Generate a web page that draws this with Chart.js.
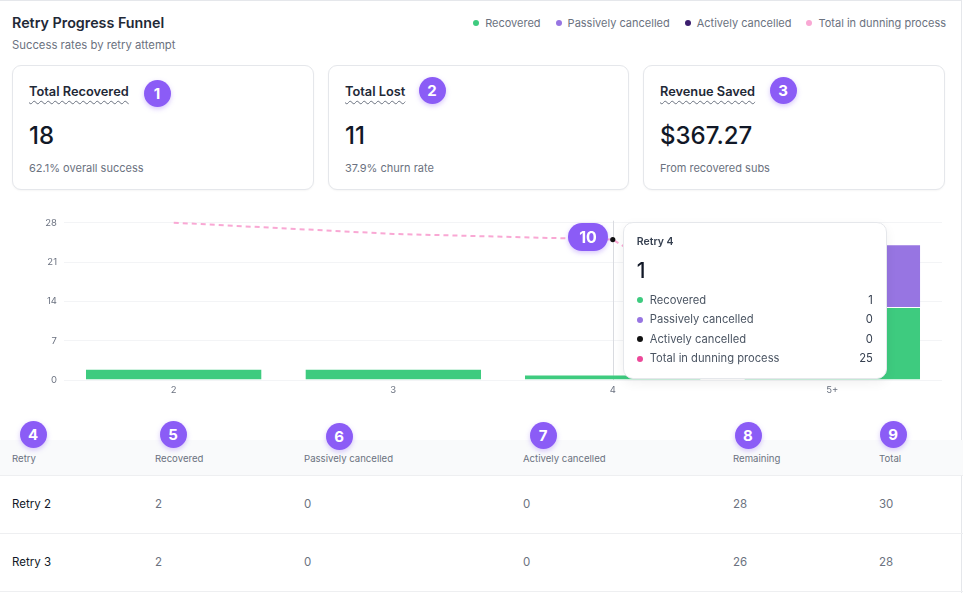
<!DOCTYPE html>
<html>
<head>
<meta charset="utf-8">
<script src="https://cdn.jsdelivr.net/npm/chart.js@4/dist/chart.umd.min.js"></script>
<style>
  html, body { margin:0; padding:0; }
  body { width:967px; height:593px; overflow:hidden; background:#fff; font-family: Inter, "Noto Sans", sans-serif; position:relative; color:#111827; }
  .frame { position:absolute; left:-1px; top:0; width:963px; height:620px; border:1px solid #e5e7eb; box-sizing:border-box; }
  .title { position:absolute; left:12px; top:14px; font-size:14.3px; line-height:18px; font-weight:600; color:#1f2937; }
  .subtitle { position:absolute; left:12px; top:38px; font-size:11.3px; line-height:14px; color:#6b7280; }
  .legend { position:absolute; right:21px; top:16px; display:flex; gap:15px; font-size:11px; line-height:14px; color:#6b7280; }
  .legend .item { display:flex; align-items:center; gap:6px; }
  .legend .dot { width:6px; height:6px; border-radius:50%; display:inline-block; }
  .card { position:absolute; top:65px; height:125px; border:1px solid #e5e7eb; border-radius:9px; box-sizing:border-box; box-shadow:0 1px 2px rgba(0,0,0,0.04); background:#fff; }
  .card .lbl { position:absolute; left:16px; top:18px; font-size:12.8px; line-height:16px; font-weight:600; color:#1f2937; text-decoration:underline wavy #6b7280; text-decoration-thickness:1px; text-underline-offset:4px; }
  .card .val { position:absolute; left:16px; top:56px; font-size:24px; line-height:28px; font-weight:500; color:#111827; }
  .card .sub { position:absolute; left:16px; top:95px; font-size:11px; line-height:14px; color:#6b7280; }
  .badge { position:absolute; width:27px; height:27px; border-radius:50%; background:#8b5cf6; color:#fff; font-weight:700; font-size:15px; line-height:27px; text-align:center; box-shadow:0 2px 5px rgba(139,92,246,0.35); z-index:5; }
  .badge.pill { width:40px; height:28px; border-radius:14px; line-height:28px; font-size:16px; }
  .chartbox { position:absolute; left:0; top:210px; width:952px; height:190px; }
  #tip { position:absolute; width:264px; height:157px; box-sizing:border-box; background:#fff; border:1px solid #e5e7eb; border-radius:10px; box-shadow:0 4px 12px rgba(0,0,0,0.06); padding:12px 13px; z-index:4; display:none; }
  #tip .t { font-size:10.5px; line-height:14px; font-weight:600; color:#374151; }
  #tip .big { font-size:21px; line-height:24px; font-weight:500; color:#111827; margin-top:10px; margin-bottom:8px; }
  #tip .row { display:flex; align-items:center; font-size:11.2px; line-height:19.4px; color:#4b5563; }
  #tip .row .d { width:6px; height:6px; border-radius:50%; margin-right:7px; margin-left:0px; }
  #tip .row .v { margin-left:auto; color:#374151; }
  table { position:absolute; left:0; top:440px; width:963px; border-collapse:collapse; table-layout:fixed; font-size:11.5px; }
  th { background:#f9fafb; height:35px; box-sizing:border-box; font-weight:400; font-size:9.6px; color:#6b7280; text-align:left; padding:3px 0 0 0; border-bottom:1px solid #eeeff1; vertical-align:middle; }
  td { height:57px; text-align:left; padding:0; border-bottom:1px solid #eeeff1; color:#6b7280; vertical-align:middle; }
  td.first { color:#111827; }
  th.first, td.first { padding-left:12px; }
</style>
</head>
<body>
<div class="frame"></div>
<div class="title">Retry Progress Funnel</div>
<div class="subtitle">Success rates by retry attempt</div>
<div class="legend" id="legend"></div>

<div id="cards"></div>

<div class="chartbox"><canvas id="c"></canvas></div>
<div id="tip"></div>

<table id="tbl"></table>

<script>
// ---- data ----
const categories = ['2', '3', '4', '5+'];
const recovered = [2, 2, 1, 13];
const passivelyCancelled = [0, 0, 0, 11];
const activelyCancelled = [0, 0, 0, 0];
const totalInDunning = [28, 26, 25, 1];
const yTicks = [0, 7, 14, 21, 28];

const seriesNames = ['Recovered', 'Passively cancelled', 'Actively cancelled', 'Total in dunning process'];
const legendColors = ['#3ecb7f', '#9775e2', '#3b1d6e', '#f9a8d4'];
const tooltipDotColors = ['#3ecb7f', '#9775e2', '#111111', '#ec4899'];

const cardTitles = ['Total Recovered', 'Total Lost', 'Revenue Saved'];
const cardValues = ['18', '11', '$367.27'];
const cardSubs = ['62.1% overall success', '37.9% churn rate', 'From recovered subs'];

const tableHeaders = ['Retry', 'Recovered', 'Passively cancelled', 'Actively cancelled', 'Remaining', 'Total'];
const tableRetry = ['Retry 2', 'Retry 3'];
const tableRecovered = [2, 2];
const tablePassive = [0, 0];
const tableActive = [0, 0];
const tableRemaining = [28, 26];
const tableTotal = [30, 28];

const activeIndex = 2;

// ---- legend ----
const legend = document.getElementById('legend');
seriesNames.forEach((n, i) => {
  const it = document.createElement('div'); it.className = 'item';
  it.innerHTML = '<span class="dot" style="background:' + legendColors[i] + '"></span><span>' + n + '</span>';
  legend.appendChild(it);
});

// ---- cards ----
const cardLefts = [12, 328, 643];
const cardWidths = [302, 301, 302];
const cardsEl = document.getElementById('cards');
cardTitles.forEach((t, i) => {
  const c = document.createElement('div'); c.className = 'card';
  c.style.left = cardLefts[i] + 'px'; c.style.width = cardWidths[i] + 'px';
  c.innerHTML = '<div class="lbl">' + t + '</div><div class="val">' + cardValues[i] + '</div><div class="sub">' + cardSubs[i] + '</div>';
  cardsEl.appendChild(c);
});

// ---- badges ----
const badges = [
  ['1', 157, 93], ['2', 432, 90], ['3', 783, 90],
  ['4', 33, 434], ['5', 173, 434], ['6', 339, 436], ['7', 543, 435], ['8', 748, 435], ['9', 893, 434]
];
badges.forEach(b => {
  const d = document.createElement('div'); d.className = 'badge'; d.textContent = b[0];
  d.style.left = (b[1] - 13.5) + 'px'; d.style.top = (b[2] - 13.5) + 'px';
  document.body.appendChild(d);
});
const b10 = document.createElement('div'); b10.className = 'badge pill'; b10.textContent = '10';
b10.style.left = (588 - 20) + 'px'; b10.style.top = (237 - 14) + 'px';
document.body.appendChild(b10);

// ---- table ----
const tbl = document.getElementById('tbl');
const colW = [155, 149, 219, 210, 146, 84];
let html = '<colgroup>' + colW.map(w => '<col style="width:' + w + 'px">').join('') + '</colgroup>';
html += '<tr>' + tableHeaders.map((h, i) => '<th' + (i === 0 ? ' class="first"' : '') + '>' + h + '</th>').join('') + '</tr>';
tableRetry.forEach((r, i) => {
  const cells = [r, tableRecovered[i], tablePassive[i], tableActive[i], tableRemaining[i], tableTotal[i]];
  html += '<tr>' + cells.map((v, j) => '<td' + (j === 0 ? ' class="first"' : '') + '>' + v + '</td>').join('') + '</tr>';
});
tbl.innerHTML = html;

// ---- chart ----
const tipEl = document.getElementById('tip');
function externalTooltip(context) {
  const { chart, tooltip } = context;
  if (tooltip.opacity === 0 || !tooltip.dataPoints || !tooltip.dataPoints.length) { tipEl.style.display = 'none'; return; }
  const pts = tooltip.dataPoints.slice().sort((a, b) => a.datasetIndex - b.datasetIndex);
  const idx = pts[0].dataIndex;
  let h = '<div class="t">Retry ' + chart.data.labels[idx] + '</div>';
  h += '<div class="big">' + pts[0].raw + '</div>';
  pts.forEach(p => {
    h += '<div class="row"><span class="d" style="background:' + tooltipDotColors[p.datasetIndex] + '"></span><span>' + p.dataset.label + '</span><span class="v">' + p.raw + '</span></div>';
  });
  tipEl.innerHTML = h;
  const box = chart.canvas.parentNode;
  const x = chart.scales.x.getPixelForValue(idx);
  tipEl.style.left = (box.offsetLeft + x + 10) + 'px';
  tipEl.style.top = (box.offsetTop + chart.chartArea.top - 1) + 'px';
  tipEl.style.display = 'block';
}

const crosshair = {
  id: 'crosshair',
  beforeDatasetsDraw(chart) {
    const act = chart.tooltip && chart.tooltip.getActiveElements();
    if (!act || !act.length) return;
    const x = chart.scales.x.getPixelForValue(act[0].index);
    const ctx = chart.ctx;
    ctx.save();
    ctx.strokeStyle = '#d9dbe0';
    ctx.lineWidth = 1;
    ctx.beginPath();
    ctx.moveTo(Math.round(x) + 0.5, chart.chartArea.top - 2);
    ctx.lineTo(Math.round(x) + 0.5, chart.chartArea.bottom);
    ctx.stroke();
    ctx.restore();
  }
};

const chart = new Chart(document.getElementById('c'), {
  data: {
    labels: categories,
    datasets: [
      { type: 'bar', label: seriesNames[0], data: recovered, backgroundColor: legendColors[0], borderColor: 'rgba(255,255,255,0.45)', borderWidth: { top: 1 }, borderSkipped: 'bottom', categoryPercentage: 0.8, barPercentage: 1, order: 2, stack: 'bars' },
      { type: 'bar', label: seriesNames[1], data: passivelyCancelled, backgroundColor: legendColors[1], borderWidth: 0, categoryPercentage: 0.8, barPercentage: 1, order: 2, stack: 'bars' },
      { type: 'bar', label: seriesNames[2], data: activelyCancelled, backgroundColor: legendColors[2], borderWidth: 0, categoryPercentage: 0.8, barPercentage: 1, order: 2, stack: 'bars' },
      { type: 'line', label: seriesNames[3], data: totalInDunning, borderColor: legendColors[3], borderWidth: 2, borderDash: [5, 4], pointRadius: 0, pointHoverRadius: 2.6, pointHoverBackgroundColor: '#111111', pointHoverBorderWidth: 0, pointBackgroundColor: '#111111', tension: 0, order: 0, stack: 'line', clip: false }
    ]
  },
  options: {
    responsive: true,
    maintainAspectRatio: false,
    animation: false,
    events: [],
    layout: { padding: { top: 12, right: 10, left: 0, bottom: 0 } },
    plugins: {
      legend: { display: false },
      tooltip: { enabled: false, external: externalTooltip, mode: 'index', intersect: false }
    },
    scales: {
      x: {
        stacked: true,
        grid: { display: false, drawTicks: false },
        border: { display: false },
        ticks: { color: '#6b7280', font: { family: 'Inter', size: 9.5 }, padding: 4 },
        afterFit(s) { s.height = 20; }
      },
      y: {
        stacked: true,
        min: 0, max: 28,
        afterBuildTicks(s) { s.ticks = yTicks.map(v => ({ value: v })); },
        grid: { color: '#f3f4f6', drawTicks: false },
        border: { display: false },
        ticks: { color: '#6b7280', font: { family: 'Inter', size: 9.5 }, padding: 7 },
        afterFit(s) { s.width = 64; }
      }
    }
  },
  plugins: [crosshair]
});

const pos = { x: chart.scales.x.getPixelForValue(activeIndex), y: chart.scales.y.getPixelForValue(totalInDunning[activeIndex]) };
chart.setActiveElements([{ datasetIndex: 3, index: activeIndex }]);
chart.tooltip.setActiveElements([0, 1, 2, 3].map(d => ({ datasetIndex: d, index: activeIndex })), pos);
chart.update('none');
</script>
</body>
</html>
